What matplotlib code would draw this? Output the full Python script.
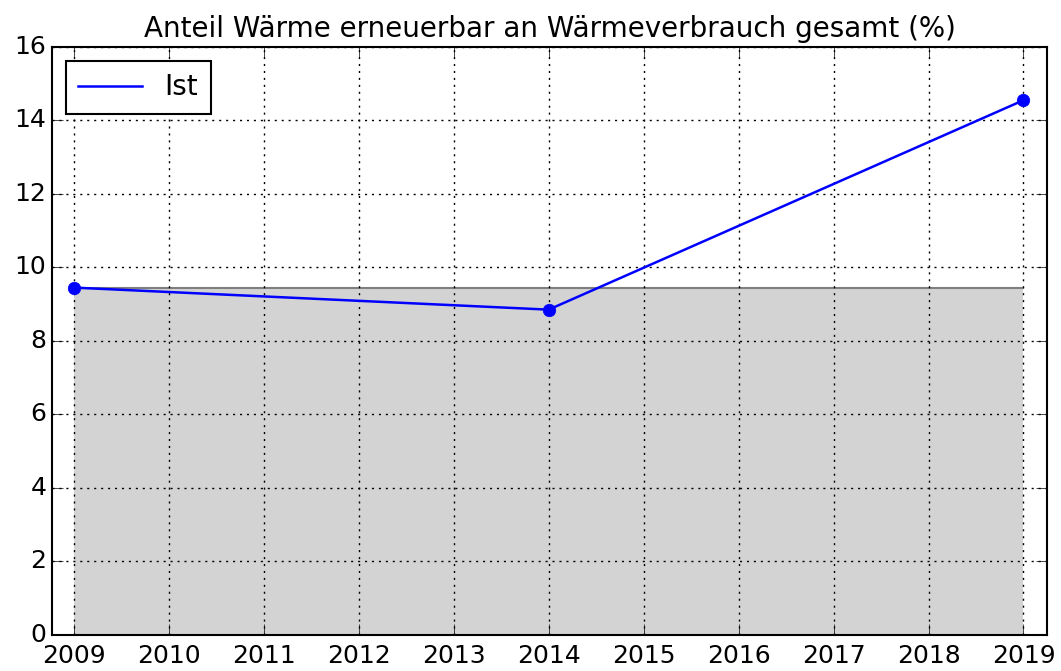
import matplotlib
matplotlib.use('Agg')
import matplotlib.pyplot as plt

years = [2009, 2014, 2019]
ist_values = [9.45, 8.85, 14.55]
baseline = 9.45
tick_years = list(range(2009, 2020))
y_ticks = list(range(0, 17, 2))

plt.style.use('classic')
fig, ax = plt.subplots(figsize=(10.61, 6.71), dpi=100)
fig.patch.set_facecolor('white')

# grey reference band at the 2009 level
ax.fill_between([years[0], years[-1]], 0, baseline, color='#d3d3d3',
                edgecolor='none', zorder=1)
ax.plot([years[0], years[-1]], [baseline, baseline], color='#7f7f7f',
        linewidth=1.5, zorder=2)

ax.plot(years, ist_values, color='blue', linewidth=1.8, zorder=3,
        label='Ist')
ax.plot(years, ist_values, 'o', color='blue', markeredgecolor='blue',
        markersize=9, zorder=4)

ax.set_xlim(2008.77, 2019.25)
ax.set_ylim(0, 16)
ax.set_xticks(tick_years)
ax.set_yticks(y_ticks)
ax.get_xaxis().get_major_formatter().set_useOffset(False)
ax.tick_params(labelsize=18, direction='in', length=8, top=True, right=True)
ax.tick_params(axis='x', pad=7)
ax.grid(True, linestyle=(0, (1.5, 3.5)), color='black', linewidth=1.0)
ax.set_axisbelow(False)

ax.set_title('Anteil Wärme erneuerbar an Wärmeverbrauch gesamt (%)',
             fontsize=20, pad=7)
leg = ax.legend(loc='upper left', fontsize=20, fancybox=False,
                handlelength=2.3, borderpad=0.45, numpoints=1)
leg.get_frame().set_edgecolor('black')
leg.get_frame().set_linewidth(1.5)

for spine in ax.spines.values():
    spine.set_linewidth(1.5)

plt.subplots_adjust(left=0.049, right=0.987, top=0.93, bottom=0.054)
plt.savefig('out.png', dpi=100, facecolor='white')
